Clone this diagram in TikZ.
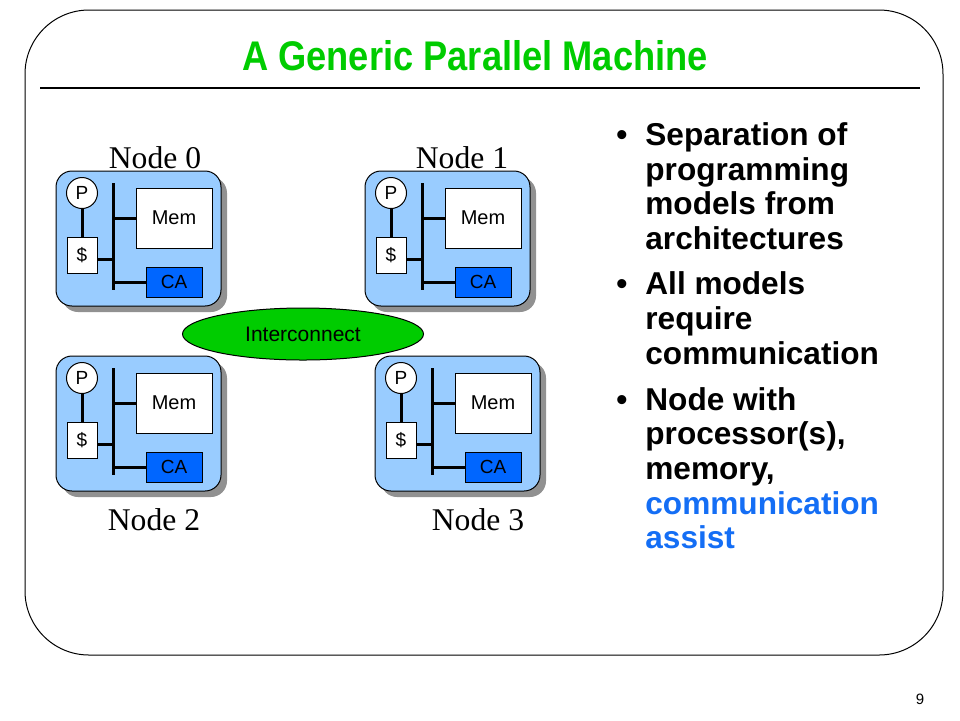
\documentclass[tikz,border=0pt]{standalone}
\usepackage{fontspec}
\usepackage{graphicx}
\setmainfont{Liberation Serif}
\newfontfamily\arial{Liberation Sans}
\usetikzlibrary{shapes.geometric}
\definecolor{ttlgreen}{RGB}{0,204,0}
\definecolor{boxblue}{RGB}{153,204,255}
\definecolor{cablue}{RGB}{0,102,255}
\definecolor{shadowgray}{RGB}{145,145,145}
\definecolor{txtblue}{RGB}{20,110,245}
\tikzset{
  frame/.style={draw=black, line width=0.5pt, rounded corners=32pt},
  nodebox/.style={draw=black, line width=0.5pt, fill=boxblue, rounded corners=8pt},
  nodeshadow/.style={fill=shadowgray, rounded corners=8pt},
  pcirc/.style={circle, draw=black, line width=0.5pt, fill=white, minimum size=15.5pt, inner sep=0pt, font=\arial\fontsize{9.5pt}{11pt}\selectfont},
  cachebox/.style={rectangle, draw=black, line width=0.5pt, fill=white, minimum width=15pt, minimum height=18pt, inner sep=0pt, font=\arial\fontsize{9.5pt}{11pt}\selectfont},
  membox/.style={rectangle, draw=black, line width=0.5pt, fill=white, minimum width=38pt, minimum height=30pt, inner sep=0pt, font=\arial\fontsize{10pt}{11pt}\selectfont},
  cabox/.style={rectangle, draw=black, line width=0.5pt, fill=cablue, minimum width=28pt, minimum height=15pt, inner sep=0pt, font=\arial\fontsize{9.5pt}{11pt}\selectfont},
  busline/.style={line width=1.5pt, black},
  nodelabel/.style={anchor=base, font=\fontsize{15.8pt}{18pt}\selectfont},
  bullettxt/.style={anchor=base west, inner sep=0pt, font=\arial\bfseries\fontsize{15.8pt}{18pt}\selectfont},
}
\newcommand\procnode[3]{%
  \begin{scope}[shift={(#1,#2)}]
    \fill[nodeshadow] (62,177) rectangle (227,312);
    \draw[nodebox] (56,171) rectangle (221,306);
    \coordinate (#3bt) at (113,183);
    \coordinate (#3bb) at (113,290);
    \node[pcirc] (#3p) at (82,193) {P};
    \node[cachebox] (#3d) at (82,255) {\$};
    \node[membox] (#3m) at (174,218) {Mem};
    \node[cabox] (#3c) at (174,282) {CA};
    \draw[busline] (#3bt) -- (#3bb);
    \draw[busline] (#3p) -- (#3d);
    \draw[busline] ([yshift=-2pt]#3d.east) -- ([yshift=-2pt]#3d.east -| #3bt);
    \draw[busline] (#3m.west -| #3bt) -- (#3m.west);
    \draw[busline] (#3c.west -| #3bt) -- (#3c.west);
  \end{scope}}
\begin{document}
\begin{tikzpicture}[x=0.5pt, y=-0.5pt]
\useasboundingbox (0,0) rectangle (960,720);
\fill[white] (0,0) rectangle (960,720);
\draw[frame] (25,10) rectangle (943,655);
\node[anchor=base, text=ttlgreen, inner sep=0pt, font=\arial\bfseries\fontsize{18.5pt}{22pt}\selectfont] (title) at (475,70) {\scalebox{0.98}[1.12]{A Generic Parallel Machine}};
\coordinate (hl) at (40,88);
\coordinate (hr) at (920,88);
\draw[line width=0.6pt] (hl) -- (hr);

\procnode{0}{0}{a}
\procnode{309}{0}{b}
\procnode{0}{185}{c}
\procnode{319}{185}{d}

\node[nodelabel] (l0) at (155,168) {Node 0};
\node[nodelabel] (l1) at (462,168) {Node 1};
\node[nodelabel] (l2) at (154,530) {Node 2};
\node[nodelabel] (l3) at (478,530) {Node 3};

\node[ellipse, draw=black, line width=0.5pt, fill=ttlgreen, minimum width=120.5pt, minimum height=26pt, inner sep=0pt, font=\arial\fontsize{10.5pt}{12pt}\selectfont] (ic) at (303,334) {Interconnect};

\node[bullettxt] (k1) at (616,145) {•};
\node[bullettxt] (t11) at (645,145) {Separation of};
\node[bullettxt] (t12) at (645,180) {programming};
\node[bullettxt] (t13) at (645,214) {models from};
\node[bullettxt] (t14) at (645,249) {architectures};
\node[bullettxt] (k2) at (616,294) {•};
\node[bullettxt] (t21) at (645,294) {All models};
\node[bullettxt] (t22) at (645,329) {require};
\node[bullettxt] (t23) at (645,364) {communication};
\node[bullettxt] (k3) at (616,410) {•};
\node[bullettxt] (t31) at (645,410) {Node with};
\node[bullettxt] (t32) at (645,444) {processor(s),};
\node[bullettxt] (t33) at (645,479) {memory,};
\node[bullettxt, text=txtblue] (t34) at (645,514) {communication};
\node[bullettxt, text=txtblue] (t35) at (645,548) {assist};

\node[anchor=base, font=\arial\fontsize{7.5pt}{9pt}\selectfont] (pg) at (920,704) {9};
\end{tikzpicture}
\end{document}
